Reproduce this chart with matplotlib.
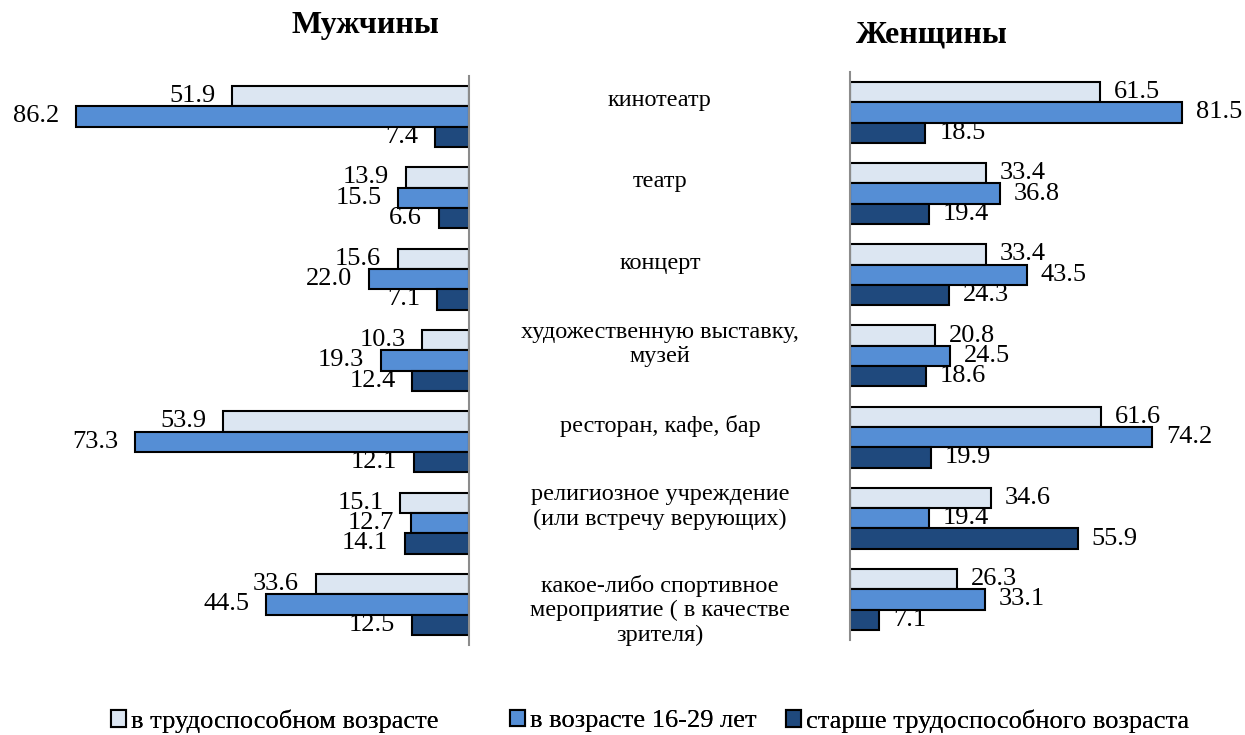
import matplotlib
matplotlib.use("Agg")
import matplotlib.pyplot as plt
from matplotlib.patches import Patch
import numpy as np

plt.rcParams['font.family'] = ['Liberation Serif', 'DejaVu Serif']

categories = ["кинотеатр", "театр", "концерт", "художественную выставку,\nмузей",
              "ресторан, кафе, бар", "религиозное учреждение\n(или встречу верующих)",
              "какое-либо спортивное\nмероприятие ( в качестве\nзрителя)"]
series_names = ["в трудоспособном возрасте", "в возрасте 16-29 лет",
                "старше трудоспособного возраста"]
men_working = [51.9, 13.9, 15.6, 10.3, 53.9, 15.1, 33.6]
men_young = [86.2, 15.5, 22.0, 19.3, 73.3, 12.7, 44.5]
men_old = [7.4, 6.6, 7.1, 12.4, 12.1, 14.1, 12.5]
women_working = [61.5, 33.4, 33.4, 20.8, 61.6, 34.6, 26.3]
women_young = [81.5, 36.8, 43.5, 24.5, 74.2, 19.4, 33.1]
women_old = [18.5, 19.4, 24.3, 18.6, 19.9, 55.9, 7.1]

colors = ["#DCE6F2", "#558ED5", "#1F497D"]

W, H = 1245, 735
fig = plt.figure(figsize=(W / 100, H / 100), dpi=100)

def fx(px):
    return px / W

def fy(py):
    return 1 - py / H

# left axes: x 0..469 px, y 75.8..645 px
axL = fig.add_axes([0, fy(645), fx(469), (645 - 75.8) / H])
# right axes: x 850..1245, y 71.8..640
axR = fig.add_axes([fx(850), fy(640), fx(W - 850), (640 - 71.8) / H])

n = len(categories)
y = np.arange(n)
bh = 0.25
offsets = [-bh, 0, bh]

men = [men_working, men_young, men_old]
women = [women_working, women_young, women_old]

for ax, data, side in [(axL, men, 'left'), (axR, women, 'right')]:
    for i, vals in enumerate(data):
        bars = ax.barh(y + offsets[i], vals, height=bh, color=colors[i],
                       edgecolor='black', linewidth=1.5)
        for b, v in zip(bars, vals):
            if side == 'left':
                ax.annotate(f"{v:.1f}", (v, b.get_y() + b.get_height() / 2),
                            xytext=(-12, 0), textcoords='offset points',
                            ha='right', va='center', fontsize=19)
            else:
                ax.annotate(f"{v:.1f}", (v, b.get_y() + b.get_height() / 2),
                            xytext=(10, 0), textcoords='offset points',
                            ha='left', va='center', fontsize=19)
    ax.set_ylim(n - 0.5, -0.5)
    ax.set_xticks([])
    ax.set_yticks([])
    for s in ax.spines.values():
        s.set_visible(False)
    ax.patch.set_visible(False)

axL.set_xlim(469 / 4.56, 0)
axL.spines['right'].set_visible(True)
axL.spines['right'].set_color('#8c8c8c')
axL.spines['right'].set_linewidth(1.5)
axR.set_xlim(0, (W - 850) / 4.07)
axR.spines['left'].set_visible(True)
axR.spines['left'].set_color('#8c8c8c')
axR.spines['left'].set_linewidth(1.5)

# category labels in the middle, using left axes y scale
for i, c in enumerate(categories):
    nlines = c.count('\n') + 1
    dy = 16 if nlines < 3 else -6
    axL.annotate(c, xy=(0, i), xycoords='data', xytext=(660 - 469, dy),
                 textcoords='offset pixels', ha='center', va='center',
                 fontsize=17.5, linespacing=1.22, annotation_clip=False)

fig.text(fx(365), fy(26), "Мужчины", ha='center', va='center', fontsize=23,
         fontweight='bold')
fig.text(fx(932), fy(35), "Женщины", ha='center', va='center', fontsize=23,
         fontweight='bold')

legend_x = [111, 510, 786]
for i, name in enumerate(series_names):
    h = Patch(facecolor=colors[i], edgecolor='black', linewidth=1.5)
    leg = fig.legend([h], [name], loc='center left',
                     bbox_to_anchor=(fx(legend_x[i]), fy(721)),
                     frameon=False, fontsize=19, handlelength=0.55,
                     handleheight=0.6, handletextpad=0.2, borderpad=0,
                     borderaxespad=0)
    fig.add_artist(leg)

fig.savefig("out.png", dpi=100)
